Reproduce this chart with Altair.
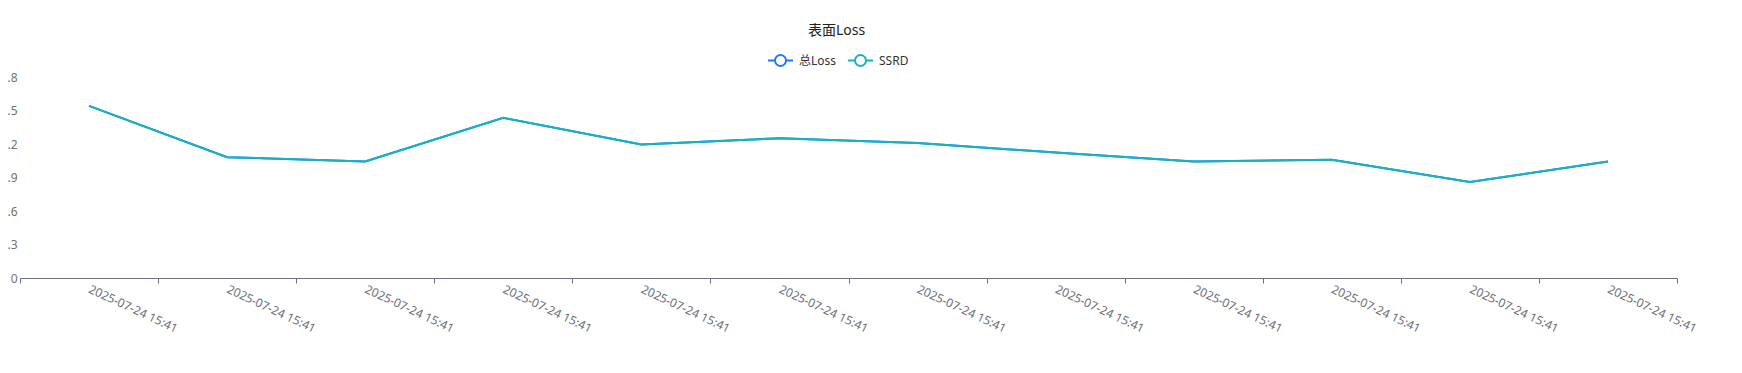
import json
import altair as alt
import pandas as pd

times = ["2025-07-24 15:41"] * 12
series_names = ["总Loss", "SSRD"]
total_loss = [1.541, 1.082, 1.043, 1.434, 1.195, 1.252, 1.208, 1.124, 1.043, 1.058, 0.859, 1.043]
ssrd = [1.541, 1.082, 1.043, 1.434, 1.195, 1.252, 1.208, 1.124, 1.043, 1.058, 0.859, 1.043]
y_ticks = [0, 0.3, 0.6, 0.9, 1.2, 1.5, 1.8]
colors = ["#1f78ff", "#14b3bf"]

rows = []
for name, vals in zip(series_names, [total_loss, ssrd]):
    for i, v in enumerate(vals):
        rows.append({"idx": i, "time": times[i], "series": name, "value": v})
df = pd.DataFrame(rows)

FONT = "Noto Sans, Noto Sans CJK SC, sans-serif"
legend_path = ("M-1,0 L-0.44,0 M0.44,0 L1,0 "
               "M-0.44,0 A0.44,0.44 0 1,0 0.44,0 A0.44,0.44 0 1,0 -0.44,0")

label_expr = json.dumps(times) + "[toNumber(datum.value)]"

chart = alt.Chart(df).mark_line(strokeWidth=2).encode(
    x=alt.X("idx:O",
            scale=alt.Scale(paddingInner=0, paddingOuter=0),
            axis=alt.Axis(title=None, labelExpr=label_expr, labelAngle=25,
                          labelAlign="left", labelBaseline="middle",
                          labelPadding=5, labelColor="#6E7079", labelFontSize=12,
                          labelFont=FONT, domainColor="#6E7079", tickColor="#6E7079",
                          tickSize=5, tickBand="extent", grid=False)),
    y=alt.Y("value:Q",
            scale=alt.Scale(domain=[0, 1.8], nice=False),
            axis=alt.Axis(title=None, values=y_ticks, domain=False, ticks=False, grid=False,
                          labelExpr="datum.value == 0 ? '0' : format(datum.value, '.1f')",
                          labelPadding=3, labelColor="#6E7079", labelFontSize=12,
                          labelFont=FONT)),
    color=alt.Color("series:N",
                    scale=alt.Scale(domain=series_names, range=colors),
                    sort=series_names,
                    legend=alt.Legend(title=None, orient="none", direction="horizontal",
                                      legendX=747, legendY=-30,
                                      symbolType=legend_path, symbolSize=625,
                                      symbolStrokeWidth=2, symbolFillColor="white",
                                      labelFontSize=12, labelColor="#333333",
                                      labelFont=FONT, labelOffset=5, columnPadding=7)),
    order=alt.Order("series:N", sort="descending"),
).properties(
    width=1657,
    height=201,
    title=alt.Title("表面Loss", fontSize=14, fontWeight="normal", color="#222222",
                    font=FONT, anchor="middle", dx=-12, offset=9),
    autosize=alt.AutoSizeParams(type="none"),
    padding={"left": 12, "top": 69, "right": 57, "bottom": 87},
).configure_view(stroke=None)

chart.save("out.html", embed_options={"renderer": "svg", "actions": False})
